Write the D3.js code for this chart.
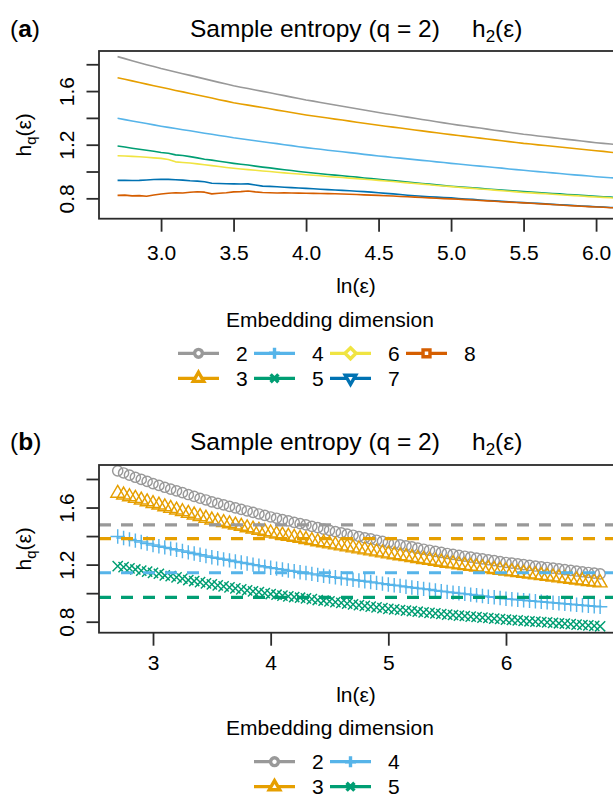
<!DOCTYPE html>
<html>
<head>
<meta charset="utf-8">
<script src="https://cdn.jsdelivr.net/npm/d3@7"></script>
<style>
  body { margin: 0; background: #fff; }
  svg { display: block; font-family: "Liberation Sans", Arial, Helvetica, sans-serif; }
</style>
</head>
<body>
<svg id="chart" width="613" height="797"></svg>
<script>
// ln(epsilon) grid shared by every series
const lnEps = [
  2.70, 2.75, 2.80, 2.85, 2.90, 2.95,
  3.00, 3.05, 3.10, 3.15, 3.20, 3.25, 3.30, 3.35, 3.40, 3.45,
  3.50, 3.55, 3.60, 3.65, 3.70, 3.75, 3.80, 3.85, 3.90, 3.95,
  4.00, 4.05, 4.10, 4.15, 4.20, 4.25, 4.30, 4.35, 4.40, 4.45,
  4.50, 4.55, 4.60, 4.65, 4.70, 4.75, 4.80, 4.85, 4.90, 4.95,
  5.00, 5.05, 5.10, 5.15, 5.20, 5.25, 5.30, 5.35, 5.40, 5.45,
  5.50, 5.55, 5.60, 5.65, 5.70, 5.75, 5.80, 5.85, 5.90, 5.95,
  6.00, 6.05, 6.10, 6.15, 6.20, 6.25, 6.30, 6.35, 6.40, 6.45,
  6.50, 6.55, 6.60, 6.65, 6.70, 6.75, 6.80
];

// sample entropy h2(eps) for embedding dimensions 2..8
const hDim2 = [
  1.857, 1.842, 1.827, 1.812, 1.797, 1.783,
  1.768, 1.755, 1.742, 1.729, 1.717, 1.704, 1.691, 1.678, 1.665, 1.653,
  1.640, 1.629, 1.619, 1.608, 1.598, 1.587, 1.576, 1.566, 1.555, 1.545,
  1.534, 1.525, 1.515, 1.506, 1.496, 1.487, 1.478, 1.468, 1.459, 1.449,
  1.440, 1.431, 1.423, 1.414, 1.406, 1.397, 1.388, 1.380, 1.371, 1.363,
  1.354, 1.346, 1.339, 1.331, 1.324, 1.316, 1.308, 1.301, 1.293, 1.286,
  1.278, 1.272, 1.265, 1.259, 1.253, 1.246, 1.240, 1.234, 1.228, 1.221,
  1.215, 1.210, 1.205, 1.200, 1.195, 1.190, 1.185, 1.180, 1.175, 1.170,
  1.165, 1.160, 1.155, 1.150, 1.145, 1.140, 1.135
];
const hDim3 = [
  1.700, 1.688, 1.676, 1.664, 1.652, 1.640,
  1.628, 1.617, 1.605, 1.594, 1.582, 1.571, 1.559, 1.548, 1.536, 1.525,
  1.513, 1.504, 1.495, 1.486, 1.477, 1.468, 1.458, 1.449, 1.440, 1.431,
  1.422, 1.414, 1.407, 1.399, 1.391, 1.384, 1.376, 1.368, 1.360, 1.353,
  1.345, 1.338, 1.331, 1.324, 1.317, 1.310, 1.303, 1.296, 1.289, 1.282,
  1.275, 1.269, 1.262, 1.256, 1.249, 1.243, 1.236, 1.230, 1.223, 1.217,
  1.210, 1.205, 1.199, 1.194, 1.188, 1.183, 1.177, 1.172, 1.166, 1.161,
  1.155, 1.150, 1.144, 1.139, 1.134, 1.128, 1.123, 1.118, 1.113, 1.107,
  1.102, 1.097, 1.092, 1.087, 1.082, 1.077, 1.072
];
const hDim4 = [
  1.397, 1.387, 1.377, 1.368, 1.358, 1.348,
  1.338, 1.329, 1.321, 1.312, 1.304, 1.295, 1.286, 1.278, 1.269, 1.261,
  1.252, 1.245, 1.237, 1.230, 1.222, 1.215, 1.208, 1.200, 1.193, 1.185,
  1.178, 1.172, 1.166, 1.159, 1.153, 1.147, 1.141, 1.135, 1.128, 1.122,
  1.116, 1.111, 1.105, 1.100, 1.094, 1.089, 1.083, 1.078, 1.072, 1.067,
  1.061, 1.056, 1.051, 1.045, 1.040, 1.035, 1.030, 1.025, 1.019, 1.014,
  1.009, 1.004, 0.999, 0.995, 0.990, 0.985, 0.980, 0.975, 0.971, 0.966,
  0.961, 0.957, 0.954, 0.950, 0.947, 0.943, 0.940, 0.936, 0.933, 0.929,
  0.926, 0.922, 0.919, 0.915, 0.912, 0.908, 0.905
];
const hDim5 = [
  1.190, 1.183, 1.174, 1.166, 1.158, 1.151,
  1.142, 1.136, 1.124, 1.119, 1.111, 1.102, 1.092, 1.085, 1.077, 1.069,
  1.061, 1.054, 1.048, 1.040, 1.033, 1.027, 1.020, 1.013, 1.007, 1.000,
  0.994, 0.989, 0.983, 0.978, 0.973, 0.968, 0.963, 0.958, 0.952, 0.947,
  0.942, 0.937, 0.932, 0.927, 0.921, 0.916, 0.911, 0.906, 0.900, 0.895,
  0.890, 0.886, 0.882, 0.878, 0.874, 0.870, 0.866, 0.862, 0.858, 0.854,
  0.850, 0.847, 0.843, 0.840, 0.836, 0.833, 0.829, 0.826, 0.822, 0.819,
  0.815, 0.812, 0.809, 0.806, 0.803, 0.800, 0.798, 0.795, 0.792, 0.789,
  0.786, 0.783, 0.780, 0.777, 0.774, 0.771, 0.768
];
const hDim6 = [
  1.118, 1.116, 1.113, 1.110, 1.106, 1.102,
  1.098, 1.090, 1.072, 1.067, 1.063, 1.057, 1.050, 1.044, 1.037, 1.030,
  1.024, 1.019, 1.014, 1.009, 1.004, 1.000, 0.995, 0.990, 0.985, 0.981,
  0.976, 0.972, 0.968, 0.963, 0.959, 0.955, 0.951, 0.947, 0.942, 0.938,
  0.934, 0.929, 0.925, 0.920, 0.915, 0.911, 0.906, 0.901, 0.896, 0.892,
  0.887, 0.883, 0.878, 0.874, 0.870, 0.866, 0.861, 0.857, 0.853, 0.848,
  0.844, 0.841, 0.837, 0.834, 0.830, 0.827, 0.823, 0.820, 0.817, 0.813,
  0.810, 0.807, 0.804, 0.800, 0.797, 0.794, 0.791, 0.787, 0.784, 0.781,
  0.778, 0.775, 0.772, 0.769, 0.766, 0.763, 0.760
];
const hDim7 = [
  0.934, 0.935, 0.933, 0.934, 0.937, 0.940,
  0.942, 0.941, 0.938, 0.936, 0.931, 0.928, 0.924, 0.913, 0.911, 0.909,
  0.908, 0.907, 0.908, 0.900, 0.891, 0.889, 0.886, 0.883, 0.880, 0.877,
  0.874, 0.871, 0.868, 0.865, 0.862, 0.859, 0.856, 0.853, 0.850, 0.846,
  0.842, 0.837, 0.833, 0.828, 0.823, 0.819, 0.815, 0.812, 0.809, 0.806,
  0.803, 0.799, 0.795, 0.792, 0.788, 0.784, 0.781, 0.777, 0.774, 0.771,
  0.768, 0.765, 0.762, 0.759, 0.755, 0.752, 0.749, 0.746, 0.743, 0.740,
  0.737, 0.735, 0.732, 0.730, 0.727, 0.725, 0.722, 0.720, 0.717, 0.715,
  0.712, 0.710, 0.708, 0.706, 0.704, 0.702, 0.700
];
const hDim8 = [
  0.822, 0.824, 0.818, 0.820, 0.815, 0.825,
  0.832, 0.838, 0.842, 0.840, 0.845, 0.849, 0.846, 0.833, 0.838, 0.842,
  0.848, 0.850, 0.855, 0.848, 0.843, 0.842, 0.840, 0.841, 0.840, 0.839,
  0.838, 0.837, 0.836, 0.835, 0.834, 0.832, 0.830, 0.828, 0.826, 0.824,
  0.822, 0.819, 0.817, 0.814, 0.812, 0.809, 0.806, 0.803, 0.800, 0.798,
  0.796, 0.793, 0.790, 0.787, 0.784, 0.781, 0.778, 0.775, 0.772, 0.769,
  0.766, 0.763, 0.760, 0.757, 0.754, 0.750, 0.747, 0.744, 0.741, 0.738,
  0.735, 0.733, 0.730, 0.728, 0.725, 0.723, 0.721, 0.719, 0.716, 0.714,
  0.712, 0.710, 0.707, 0.705, 0.703, 0.700, 0.698
];

const dims = ["2", "3", "4", "5", "6", "7", "8"];
const dimSeries = [hDim2, hDim3, hDim4, hDim5, hDim6, hDim7, hDim8];
const dimColors = ["#999999", "#E69F00", "#56B4E9", "#009E73", "#F0E442", "#0072B2", "#D55E00"];
const dimShapes = ["circle", "triangle", "plus", "cross", "diamond", "triangleDown", "square"];

// plateau estimates (dashed) for dimensions 2..5
const plateau = [1.478, 1.382, 1.143, 0.971];

// axis ticks
const xTicksA = [3.0, 3.5, 4.0, 4.5, 5.0, 5.5, 6.0];
const xTickLabelsA = ["3.0", "3.5", "4.0", "4.5", "5.0", "5.5", "6.0"];
const xTicksB = [3, 4, 5, 6];
const xTickLabelsB = ["3", "4", "5", "6"];
const yTicks = [0.8, 1.0, 1.2, 1.4, 1.6, 1.8];
const yTickLabels = ["0.8", "", "1.2", "", "1.6", ""];

const svg = d3.select("#chart");
const defs = svg.append("defs");
const axisColor = "#2b2b2b";

// plotting-symbol outlines, centred on the origin
function symbolPath(shape, r) {
  const s = Math.SQRT2 * r;
  const t = 1.5551 * r, h = 1.3468 * r, b = 0.7776 * r;
  const q = 0.8862 * r;
  switch (shape) {
    case "circle": return `M${r},0A${r},${r} 0 1,1 ${-r},0A${r},${r} 0 1,1 ${r},0Z`;
    case "triangle": return `M0,${-t}L${h},${b}L${-h},${b}Z`;
    case "triangleDown": return `M0,${t}L${h},${-b}L${-h},${-b}Z`;
    case "plus": return `M${-s},0H${s}M0,${-s}V${s}`;
    case "cross": return `M${-r},${-r}L${r},${r}M${-r},${r}L${r},${-r}`;
    case "diamond": return `M0,${-s}L${s},0L0,${s}L${-s},0Z`;
    case "square": return `M${-q},${-q}H${q}V${q}H${-q}Z`;
  }
}

function fontText(g, x, y, size) {
  return g.append("text").attr("x", x).attr("y", y).attr("font-size", size).attr("fill", "#000");
}

function drawTitle(tag, baseY) {
  const lab = fontText(svg, 10, baseY, 24.5);
  lab.append("tspan").text("(");
  lab.append("tspan").attr("font-weight", "bold").text(tag);
  lab.append("tspan").text(")");
  fontText(svg, 190, baseY, 24.5).text("Sample entropy (q = 2)");
  const h = fontText(svg, 472, baseY, 24.5);
  h.append("tspan").text("h");
  h.append("tspan").attr("font-size", 17).attr("dy", 5).text("2");
  h.append("tspan").attr("dy", -5).text("(\u03b5)");
}

function drawPanel(cfg) {
  const x = d3.scaleLinear().domain(cfg.xDomain).range([cfg.left, cfg.right]);
  const y = d3.scaleLinear().domain(cfg.yDomain).range([cfg.bottom, cfg.top]);
  const clipId = "clip-" + cfg.id;
  defs.append("clipPath").attr("id", clipId).append("rect")
    .attr("x", cfg.left).attr("y", cfg.top)
    .attr("width", cfg.right - cfg.left).attr("height", cfg.bottom - cfg.top);

  const g = svg.append("g");
  const plot = g.append("g").attr("clip-path", `url(#${clipId})`);
  cfg.drawMarks(plot, x, y);

  // box
  g.append("rect")
    .attr("x", cfg.left).attr("y", cfg.top)
    .attr("width", cfg.right - cfg.left).attr("height", cfg.bottom - cfg.top)
    .attr("fill", "none").attr("stroke", axisColor).attr("stroke-width", 1.8);

  // y axis
  const ya = g.append("g").attr("transform", `translate(${cfg.left},0)`)
    .call(d3.axisLeft(y).tickValues(yTicks).tickSize(12.5)
      .tickFormat((d, i) => yTickLabels[i]));
  ya.select(".domain").remove();
  ya.selectAll(".tick line").attr("stroke", axisColor).attr("stroke-width", 1.8);
  ya.selectAll(".tick text")
    .attr("x", null).attr("dy", null)
    .attr("text-anchor", "middle")
    .attr("transform", `translate(${74 - cfg.left},0) rotate(-90)`)
    .attr("font-size", 21).attr("font-family", null).attr("fill", "#000");

  // x axis
  const xa = g.append("g").attr("transform", `translate(0,${cfg.bottom})`)
    .call(d3.axisBottom(x).tickValues(cfg.xTicks).tickSize(13)
      .tickFormat((d, i) => cfg.xTickLabels[i]));
  xa.select(".domain").remove();
  xa.selectAll(".tick line").attr("stroke", axisColor).attr("stroke-width", 1.8);
  xa.selectAll(".tick text")
    .attr("y", cfg.xLabelBase - cfg.bottom).attr("dy", null)
    .attr("font-size", 21).attr("font-family", null).attr("fill", "#000");

  // axis titles
  fontText(g, 356, cfg.xTitleBase, 21).attr("text-anchor", "middle").text("ln(\u03b5)");
  const yt = g.append("text").attr("font-size", 21).attr("text-anchor", "middle")
    .attr("transform", `translate(31,${(cfg.top + cfg.bottom) / 2}) rotate(-90)`);
  yt.append("tspan").text("h");
  yt.append("tspan").attr("font-size", 15).attr("dy", 5).text("q");
  yt.append("tspan").attr("dy", -5).text("(\u03b5)");
}

function drawLegend(count, x0, titleBase, rowY) {
  fontText(svg, 330, titleBase, 21).attr("text-anchor", "middle").text("Embedding dimension");
  for (let i = 0; i < count; i++) {
    const col = Math.floor(i / 2), row = i % 2;
    const lx = x0 + col * 76, cy = rowY + row * 25;
    const g = svg.append("g");
    g.append("line").attr("x1", lx).attr("x2", lx + 41).attr("y1", cy).attr("y2", cy)
      .attr("stroke", dimColors[i]).attr("stroke-width", 3.3);
    g.append("path").attr("d", symbolPath(dimShapes[i], 3.9))
      .attr("transform", `translate(${lx + 20.5},${cy})`)
      .attr("fill", "#fff").attr("stroke", dimColors[i]).attr("stroke-width", 3.4);
    fontText(g, lx + 58, cy + 7.6, 21).text(dims[i]);
  }
}

// ---------- panel (a): all dimensions as lines ----------
drawTitle("a", 37);
drawPanel({
  id: "a", left: 99, right: 620, top: 51, bottom: 218.7,
  xDomain: [2.572, 6.165], yDomain: [0.648, 1.899],
  xTicks: xTicksA, xTickLabels: xTickLabelsA,
  xLabelBase: 260, xTitleBase: 293,
  drawMarks(plot, x, y) {
    const line = d3.line().x((d, i) => x(lnEps[i])).y(d => y(d));
    dimSeries.forEach((s, k) => {
      plot.append("path").attr("d", line(s)).attr("fill", "none")
        .attr("stroke", dimColors[k]).attr("stroke-width", 1.6)
        .attr("stroke-linejoin", "round");
    });
  }
});
drawLegend(7, 178, 327, 353.3);

// ---------- panel (b): dimensions 2..5 as points with plateau levels ----------
drawTitle("b", 449.5);
drawPanel({
  id: "b", left: 99, right: 620, top: 465, bottom: 632.7,
  xDomain: [2.541, 6.969], yDomain: [0.723, 1.898],
  xTicks: xTicksB, xTickLabels: xTickLabelsB,
  xLabelBase: 670, xTitleBase: 702,
  drawMarks(plot, x, y) {
    for (let k = 0; k < 4; k++) {
      const path = symbolPath(dimShapes[k], 5.1);
      plot.append("g").selectAll("path").data(dimSeries[k]).join("path")
        .attr("d", path)
        .attr("transform", (d, i) => `translate(${x(lnEps[i])},${y(d)})`)
        .attr("fill", "none").attr("stroke", dimColors[k]).attr("stroke-width", 1.45);
    }
    plateau.forEach((v, k) => {
      plot.append("line").attr("x1", x.range()[0]).attr("x2", x.range()[1])
        .attr("y1", y(v)).attr("y2", y(v))
        .attr("stroke", dimColors[k]).attr("stroke-width", 3.2)
        .attr("stroke-dasharray", "12,10");
    });
  }
});
drawLegend(4, 254, 735, 761.7);
</script>
</body>
</html>
